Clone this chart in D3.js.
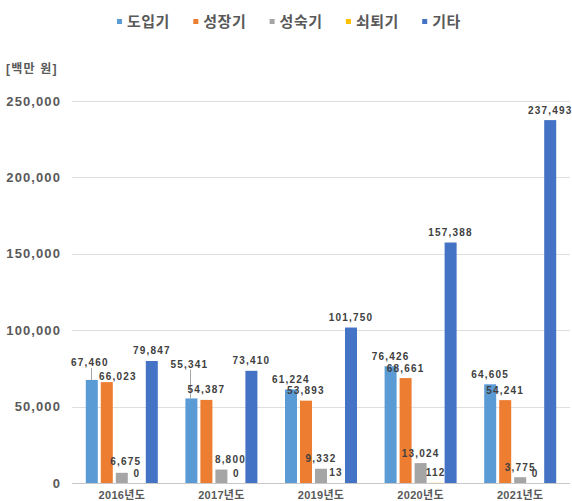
<!DOCTYPE html>
<html>
<head>
<meta charset="utf-8">
<script src="https://cdn.jsdelivr.net/npm/d3@7"></script>
<style>
  body { margin: 0; background: #fff }
  svg { display: block; font-family: 'Liberation Sans', 'Noto Sans CJK KR', sans-serif }
</style>
</head>
<body>
<svg id="chart" width="572" height="501"></svg>
<script>
const years = ['2016년도', '2017년도', '2019년도', '2020년도', '2021년도']
const stages = ['도입기', '성장기', '성숙기', '쇠퇴기', '기타']
const intro = [67460, 55341, 61224, 76426, 64605]
const growth = [66023, 54387, 53893, 68661, 54241]
const mature = [6675, 8800, 9332, 13024, 3775]
const decline = [0, 0, 13, 112, 0]
const other = [79847, 73410, 101750, 157388, 237493]
const y_ticks = [0, 50000, 100000, 150000, 200000, 250000]

const series = [intro, growth, mature, decline, other]
const colors = ['#5b9bd5', '#ed7d31', '#a5a5a5', '#ffc000', '#4472c4']

// a few labels were dragged off their bars in the original
const nudges = {
  '0-0': { dx: -2, dy: -7, leader: true },
  '0-1': { dx: 11, dy: 4 },
  '0-2': { dx: 4, dy: -1 },
  '1-0': { dx: -2, dy: -24, leader: true },
  '1-2': { dx: 9, dy: 0 }
}

const svg = d3.select('#chart')

const x0 = d3.scaleBand().domain(years).range([72, 570])
  .paddingInner(0.277).paddingOuter(0.1385)
const x1 = d3.scaleBand().domain(stages).range([0, x0.bandwidth()]).paddingInner(0.2)
const y = d3.scaleLinear().domain([0, 250000]).range([483, 101])

// grid
svg.append('g')
  .selectAll('line')
  .data(y_ticks)
  .enter()
  .append('line')
  .attr('x1', 72)
  .attr('x2', 570)
  .attr('y1', d => Math.round(y(d)) + 0.5)
  .attr('y2', d => Math.round(y(d)) + 0.5)
  .attr('stroke', d => d === 0 ? '#c8c8c8' : '#dedede')
  .attr('stroke-width', 1)

const y_axis = svg.append('g')
  .attr('transform', 'translate(72,0)')
  .call(d3.axisLeft(y).tickValues(y_ticks).tickFormat(d3.format(',')).tickSize(0).tickPadding(11))
y_axis.select('.domain').remove()
y_axis.selectAll('text')
  .attr('font-family', 'Liberation Sans, sans-serif')
  .attr('font-size', 13)
  .attr('font-weight', 'bold')
  .attr('letter-spacing', 1.1)
  .attr('fill', '#595959')

const x_axis = svg.append('g')
  .attr('transform', 'translate(0,483)')
  .call(d3.axisBottom(x0).tickSize(0).tickPadding(8))
x_axis.select('.domain').remove()
x_axis.selectAll('text')
  .attr('font-family', 'Liberation Sans, Noto Sans CJK KR, sans-serif')
  .attr('font-size', 11)
  .attr('font-weight', 'bold')
  .attr('letter-spacing', 0.3)
  .attr('fill', '#595959')

svg.append('text')
  .attr('x', 6)
  .attr('y', 69)
  .attr('dy', '0.35em')
  .attr('font-size', 12)
  .attr('font-weight', 'bold')
  .attr('letter-spacing', 1.2)
  .attr('fill', '#595959')
  .text('[백만 원]')

const rows = []
years.forEach((yr, i) => {
  stages.forEach((st, j) => {
    rows.push({ yr, st, i, j, v: series[j][i] })
  })
})

svg.append('g')
  .selectAll('rect')
  .data(rows)
  .enter()
  .append('rect')
  .attr('x', d => x0(d.yr) + x1(d.st))
  .attr('y', d => y(d.v))
  .attr('width', x1.bandwidth())
  .attr('height', d => y(0) - y(d.v))
  .attr('fill', d => colors[d.j])

const label_pos = d => {
  const n = nudges[`${d.i}-${d.j}`] || { dx: 0, dy: 0 }
  return {
    x: x0(d.yr) + x1(d.st) + x1.bandwidth() / 2 + n.dx,
    y: y(d.v) - 10 + n.dy,
    leader: n.leader
  }
}

svg.append('g')
  .selectAll('line')
  .data(rows.filter(d => label_pos(d).leader))
  .enter()
  .append('line')
  .attr('x1', d => Math.round(label_pos(d).x + 1) + 0.5)
  .attr('x2', d => Math.round(label_pos(d).x + 1) + 0.5)
  .attr('y1', d => label_pos(d).y + 5)
  .attr('y2', d => y(d.v))
  .attr('stroke', '#a6a6a6')
  .attr('stroke-width', 1)

svg.append('g')
  .selectAll('text')
  .data(rows)
  .enter()
  .append('text')
  .attr('x', d => label_pos(d).x)
  .attr('y', d => label_pos(d).y)
  .attr('dy', '0.35em')
  .attr('text-anchor', 'middle')
  .attr('font-size', 10)
  .attr('font-weight', 'bold')
  .attr('letter-spacing', 1.2)
  .attr('fill', '#404040')
  .text(d => d3.format(',')(d.v))

// legend
const legend = svg.append('g')
  .selectAll('g')
  .data(stages)
  .enter()
  .append('g')
  .attr('transform', (d, i) => `translate(${117 + i * 76.3},0)`)
legend.append('rect')
  .attr('x', 0)
  .attr('y', 19)
  .attr('width', 5)
  .attr('height', 5)
  .attr('fill', (d, i) => colors[i])
legend.append('text')
  .attr('x', 10)
  .attr('y', 21.5)
  .attr('dy', '0.35em')
  .attr('font-family', 'Noto Sans CJK KR, sans-serif')
  .attr('font-size', 15)
  .attr('font-weight', 'bold')
  .attr('letter-spacing', 0.5)
  .attr('fill', '#595959')
  .text(d => d)
</script>
</body>
</html>
